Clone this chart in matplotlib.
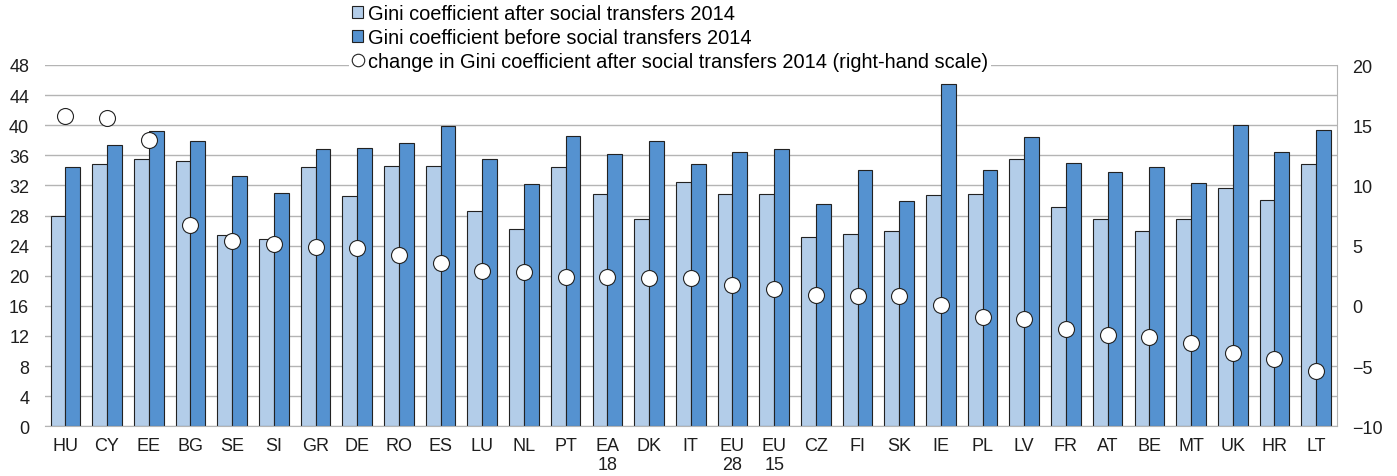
import matplotlib.pyplot as plt
import numpy as np
from matplotlib.patches import Patch
from matplotlib.lines import Line2D

plt.rcParams['font.family'] = ['Liberation Sans', 'DejaVu Sans']
plt.rcParams['font.size'] = 13

# data
countries = ["HU", "CY", "EE", "BG", "SE", "SI", "GR", "DE", "RO", "ES",
             "LU", "NL", "PT", "EA\n18", "DK", "IT", "EU\n28", "EU\n15", "CZ", "FI",
             "SK", "IE", "PL", "LV", "FR", "AT", "BE", "MT", "UK", "HR", "LT"]
gini_after = [27.9, 34.8, 35.5, 35.3, 25.4, 24.9, 34.5, 30.6, 34.6, 34.6,
              28.6, 26.2, 34.5, 30.8, 27.5, 32.4, 30.8, 30.8, 25.1, 25.6,
              26.0, 30.7, 30.8, 35.5, 29.2, 27.5, 25.9, 27.6, 31.6, 30.1, 34.9]
gini_before = [34.5, 37.4, 39.2, 37.9, 33.3, 31.0, 36.9, 37.0, 37.6, 39.9,
               35.5, 32.2, 38.6, 36.2, 37.9, 34.8, 36.4, 36.8, 29.5, 34.0,
               29.9, 45.5, 34.0, 38.4, 35.0, 33.8, 34.5, 32.3, 40.0, 36.4, 39.3]
gini_change = [15.8, 15.6, 13.8, 6.7, 5.4, 5.1, 4.9, 4.8, 4.2, 3.6,
               2.9, 2.8, 2.4, 2.4, 2.3, 2.3, 1.7, 1.4, 0.9, 0.8,
               0.8, 0.1, -0.9, -1.1, -1.9, -2.4, -2.6, -3.1, -3.9, -4.4, -5.4]

light = "#b3cde9"
dark = "#5592d0"
grid_col = "#b4b4b4"
txt = "#1e1e1e"

fig = plt.figure(figsize=(13.97, 4.77), dpi=100)
ax = fig.add_axes([44.5 / 1397, 49.7 / 477, (1337 - 44.5) / 1397, (427.3 - 66) / 477])

x = np.arange(len(countries))
w = 0.355
ax.bar(x - w / 2, gini_after, w, color=light, edgecolor="#222222", linewidth=0.8, zorder=2)
ax.bar(x + w / 2, gini_before, w, color=dark, edgecolor="#222222", linewidth=0.8, zorder=2)

ax.set_ylim(0, 48)
ax.set_yticks(np.arange(0, 49, 4))
ax.set_xlim(-0.5, len(countries) - 0.5)
ax.set_xticks(x)
ax.set_xticklabels(countries, linespacing=1.15)
ax.yaxis.grid(True, color=grid_col, linewidth=1.0)
ax.set_axisbelow(True)
ax.tick_params(axis="both", length=0, colors=txt)
ax.tick_params(axis="x", pad=8)
ax.tick_params(axis="y", pad=11)
for s in ["left", "top", "right"]:
    ax.spines[s].set_visible(False)
ax.spines["bottom"].set_color(grid_col)

ax2 = ax.twinx()
ax2.plot(x, gini_change, "o", ms=11.5, mfc="white", mec="#222222", mew=0.8, zorder=3)
ax2.set_ylim(-10, 20)
ax2.set_yticks(np.arange(-10, 21, 5))
ax2.tick_params(axis="y", length=0, colors=txt, pad=11)
for s in ["left", "top", "bottom"]:
    ax2.spines[s].set_visible(False)
ax2.spines["right"].set_color(grid_col)

handles = [Patch(facecolor=light, edgecolor="#222222", linewidth=0.8),
           Patch(facecolor=dark, edgecolor="#222222", linewidth=0.8),
           Line2D([], [], ls="none", marker="o", ms=9, mfc="white", mec="#222222", mew=0.8)]
labels = ["Gini coefficient after social transfers 2014",
          "Gini coefficient before social transfers 2014",
          "change in Gini coefficient after social transfers 2014 (right-hand scale)"]
leg = ax2.legend(handles, labels, loc="upper left", bbox_to_anchor=(349 / 1397, 1 - 2 / 477),
                 bbox_transform=fig.transFigure, frameon=True, facecolor="white",
                 edgecolor="none", framealpha=1, fancybox=False, fontsize=14.4,
                 handlelength=0.55, handleheight=0.55, handletextpad=0.25,
                 labelspacing=0.25, borderpad=0.15, borderaxespad=0)
leg.set_zorder(10)

fig.savefig("out.png", dpi=100)
